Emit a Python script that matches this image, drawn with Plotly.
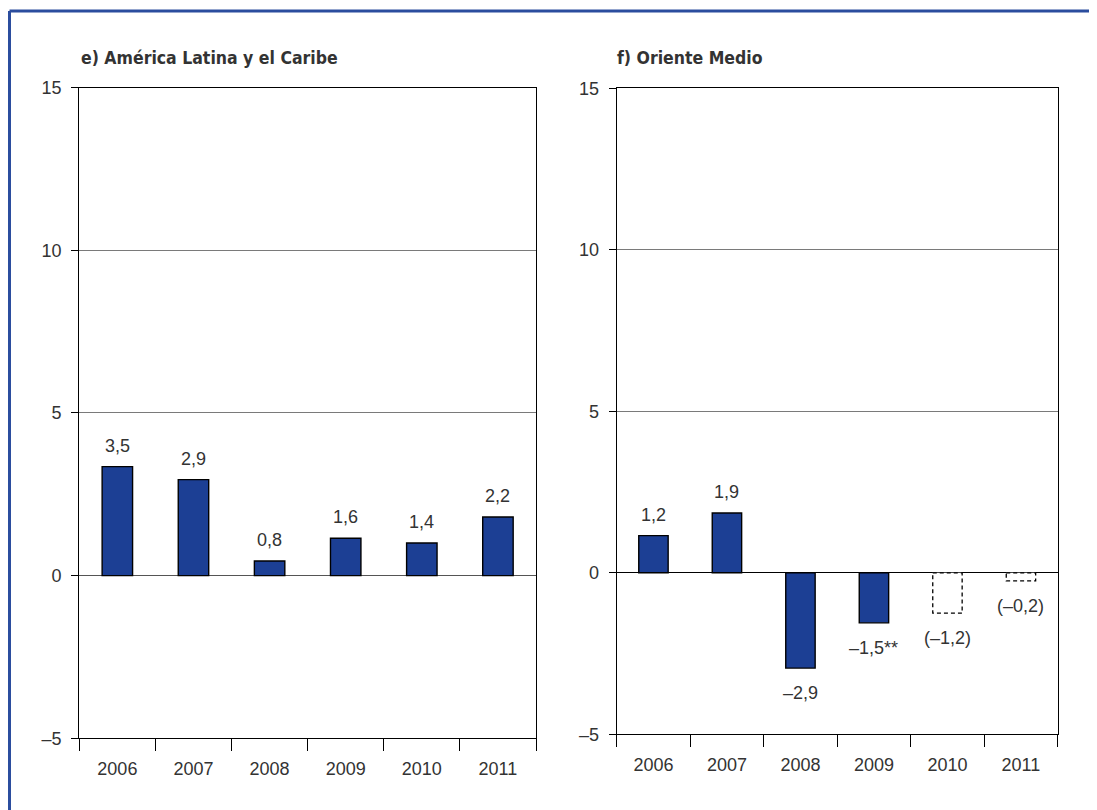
import plotly.graph_objects as go

# ---------------- data ----------------
years = ["2006", "2007", "2008", "2009", "2010", "2011"]

latam_bars = [3.35, 2.95, 0.45, 1.15, 1.0, 1.8]
latam_labels = ["3,5", "2,9", "0,8", "1,6", "1,4", "2,2"]

me_bars = [1.15, 1.85, -2.95, -1.55, None, None]
me_proj = [None, None, None, None, -1.25, -0.25]
me_labels = ["1,2", "1,9", "–2,9", "–1,5**", "(–1,2)", "(–0,2)"]

y_ticks = [-5, 0, 5, 10, 15]
y_ticktext = ["–5", "0", "5", "10", "15"]

titles = ["e) América Latina y el Caribe", "f) Oriente Medio"]

# ---------------- style ----------------
OFF = 8  # page body margin
W, H = 1097 - OFF, 810 - OFF
BAR = "#1c3f94"
TXT = "#333333"
FONT = "Liberation Sans, Arial, sans-serif"
TFONT = "Liberation Sans Narrow, DejaVu Sans Condensed, Arial Narrow, sans-serif"


def px_x(v):
    return (v - OFF) / W


def px_y(v):
    return 1 - (v - OFF) / H


idx = list(range(len(years)))

fig = go.Figure()

fig.add_trace(go.Bar(x=idx, y=latam_bars, xaxis="x", yaxis="y", width=0.4,
                     marker=dict(color=BAR, line=dict(color="black", width=1.4)),
                     hoverinfo="skip", showlegend=False))
fig.add_trace(go.Bar(x=idx, y=me_bars, xaxis="x2", yaxis="y2", width=0.4,
                     marker=dict(color=BAR, line=dict(color="black", width=1.4)),
                     hoverinfo="skip", showlegend=False))

shapes = []
annotations = []

# dashed projection boxes
for i, v in zip(idx, me_proj):
    if v is None:
        continue
    shapes.append(dict(type="rect", xref="x2", yref="y2",
                       x0=i - 0.2, x1=i + 0.2, y0=0, y1=v,
                       line=dict(color="black", width=1.3, dash="4px,3px"),
                       fillcolor="white", layer="above"))

# value labels
for i, v, t in zip(idx, latam_bars, latam_labels):
    annotations.append(dict(x=i, y=v, xref="x", yref="y", text=t, showarrow=False,
                            yanchor="middle", yshift=21 if v >= 0 else -24,
                            font=dict(family=FONT, size=18, color=TXT)))
for i, b, p, t in zip(idx, me_bars, me_proj, me_labels):
    v = b if b is not None else p
    annotations.append(dict(x=i, y=v, xref="x2", yref="y2", text=t, showarrow=False,
                            yanchor="middle", yshift=21 if v >= 0 else -25,
                            font=dict(family=FONT, size=18, color=TXT)))

# panel titles
annotations.append(dict(x=px_x(79), y=px_y(58), xref="paper", yref="paper",
                        text="<b>" + titles[0] + "</b>", showarrow=False,
                        xanchor="left", yanchor="middle",
                        font=dict(family=TFONT, size=17.5, color=TXT)))
annotations.append(dict(x=px_x(615), y=px_y(58), xref="paper", yref="paper",
                        text="<b>" + titles[1] + "</b>", showarrow=False,
                        xanchor="left", yanchor="middle",
                        font=dict(family=TFONT, size=17.5, color=TXT)))

# blue frame (top and left edges)
shapes.append(dict(type="line", xref="paper", yref="paper",
                   x0=px_x(9.5), x1=1.0, y0=px_y(11), y1=px_y(11),
                   line=dict(color="#2b4d9e", width=3)))
shapes.append(dict(type="line", xref="paper", yref="paper",
                   x0=px_x(9.5), x1=px_x(9.5), y0=px_y(11), y1=0.0,
                   line=dict(color="#2b4d9e", width=3)))

bounds = [i - 0.5 for i in idx] + [idx[-1] + 0.5]

xaxis_common = dict(range=[-0.5, len(years) - 0.5], tickmode="array",
                    tickvals=idx, ticktext=years, ticks="",
                    minor=dict(tickmode="array", tickvals=bounds, ticks="outside",
                               ticklen=12, tickwidth=1.3, tickcolor="black",
                               showgrid=False),
                    showline=True, mirror=True, linecolor="black", linewidth=1.3,
                    showgrid=False, zeroline=False, fixedrange=True,
                    automargin=False,
                    tickfont=dict(family=FONT, size=18, color=TXT),
                    ticklabelstandoff=14)
yaxis_common = dict(range=[-5, 15], tickmode="array", tickvals=y_ticks,
                    ticktext=y_ticktext, ticks="outside", ticklen=7,
                    tickwidth=1.3, tickcolor="black",
                    showline=True, mirror=True, linecolor="black", linewidth=1.3,
                    showgrid=True, gridcolor="#7a7a7a", gridwidth=1,
                    zeroline=True, zerolinewidth=1.3, fixedrange=True,
                    automargin=False,
                    tickfont=dict(family=FONT, size=18, color=TXT),
                    ticklabelstandoff=6)

fig.update_layout(
    width=W, height=H,
    margin=dict(l=0, r=0, t=0, b=0, autoexpand=False),
    paper_bgcolor="white", plot_bgcolor="white",
    xaxis=dict(domain=[px_x(79.3), px_x(536)], anchor="y", **xaxis_common),
    yaxis=dict(domain=[px_y(738.3), px_y(87.5)], anchor="x",
               zerolinecolor="#555555", **yaxis_common),
    xaxis2=dict(domain=[px_x(616.7), px_x(1057.7)], anchor="y2", **xaxis_common),
    yaxis2=dict(domain=[px_y(734.3), px_y(88.3)], anchor="x2",
                zerolinecolor="black", **yaxis_common),
    shapes=shapes,
    annotations=annotations,
    showlegend=False,
)

fig.write_html("out.html")
